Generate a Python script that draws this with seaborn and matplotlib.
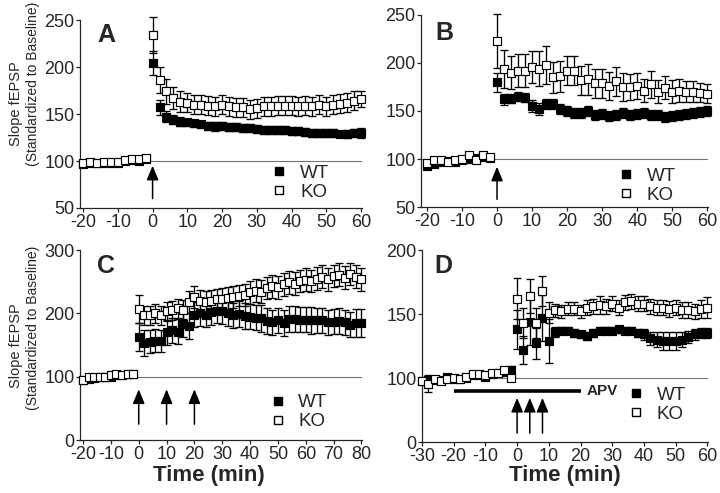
import numpy as np
import pandas as pd
import seaborn as sns
import matplotlib.pyplot as plt
from matplotlib.lines import Line2D

# ---- panel A : one tetanus at t=0 ----
A_TIME = np.arange(-20, 61, 2)
A_WT = [97, 98, 98, 98, 98, 98, 100, 101, 100, 102,
        204, 157, 147, 144, 142, 141, 140, 139, 137, 137,
        137, 136, 136, 135, 135, 134, 133, 133, 133, 133,
        132, 132, 131, 130, 130, 130, 130, 129, 129, 130, 130]
A_WT_ERR = [2, 2, 2, 2, 2, 2, 2, 2, 2, 2,
            13, 8, 6, 5, 5, 4, 4, 4, 4, 5,
            4, 4, 4, 4, 4, 4, 4, 4, 4, 4,
            4, 4, 4, 4, 4, 4, 4, 3, 4, 4, 5]
A_KO = [98, 99, 98, 99, 99, 99, 101, 102, 102, 103,
        234, 186, 174, 167, 163, 162, 160, 160, 159, 158,
        160, 158, 157, 157, 155, 156, 158, 158, 159, 159,
        159, 158, 159, 158, 160, 158, 160, 161, 162, 164, 166]
A_KO_ERR = [2, 2, 2, 2, 2, 2, 2, 2, 2, 2,
            19, 14, 13, 12, 11, 10, 10, 10, 10, 10,
            10, 10, 10, 10, 10, 10, 10, 10, 10, 10,
            10, 10, 10, 10, 10, 10, 10, 10, 10, 10, 9]

# ---- panel B ----
B_TIME = np.arange(-20, 61, 2)
B_WT = [93, 95, 97, 98, 97, 99, 100, 101, 102, 101,
        180, 162, 163, 165, 164, 155, 152, 157, 157, 152,
        150, 148, 148, 150, 146, 147, 145, 146, 148, 146,
        147, 148, 146, 146, 144, 145, 146, 147, 148, 149, 150]
B_WT_ERR = [3, 2, 2, 2, 2, 2, 2, 2, 2, 2,
            10, 6, 5, 5, 5, 6, 6, 5, 5, 5,
            5, 5, 5, 5, 5, 5, 5, 5, 5, 5,
            5, 5, 5, 5, 5, 5, 5, 5, 5, 5, 5]
B_KO = [96, 99, 99, 97, 99, 100, 104, 99, 104, 102,
        223, 194, 190, 192, 192, 196, 194, 198, 185, 186,
        192, 192, 182, 183, 179, 179, 176, 181, 175, 175,
        176, 171, 178, 170, 174, 170, 171, 170, 170, 169, 168]
B_KO_ERR = [2, 2, 2, 2, 2, 2, 2, 2, 2, 2,
            28, 20, 17, 17, 17, 17, 18, 20, 16, 16,
            15, 15, 15, 16, 15, 15, 15, 15, 15, 14,
            14, 12, 14, 12, 12, 12, 12, 11, 11, 10, 10]

# ---- panel C : three tetani ----
C_TIME = np.arange(-20, 81, 2)
C_WT = [94, 97, 98, 99, 99, 100, 103, 102, 104, 104,
        162, 153, 155, 157, 156, 170, 173, 171, 183, 180,
        198, 200, 198, 202, 204, 203, 200, 197, 199, 196,
        195, 193, 192, 188, 186, 189, 185, 191, 191, 190,
        190, 189, 189, 189, 186, 187, 188, 186, 182, 185, 185]
C_WT_ERR = [3, 2, 2, 2, 2, 2, 2, 2, 2, 2,
            22, 20, 18, 18, 17, 20, 20, 20, 20, 20,
            20, 20, 19, 20, 20, 20, 20, 20, 20, 20,
            20, 20, 21, 20, 20, 20, 20, 20, 20, 20,
            20, 21, 20, 20, 20, 20, 21, 20, 20, 22, 22]
C_KO = [95, 99, 100, 100, 100, 102, 104, 103, 105, 105,
        207, 197, 197, 200, 197, 203, 205, 208, 206, 218,
        226, 220, 218, 220, 222, 223, 224, 226, 228, 229,
        233, 236, 234, 240, 243, 241, 246, 249, 247, 251,
        253, 251, 255, 258, 254, 259, 261, 256, 262, 258, 254]
C_KO_ERR = [2, 2, 2, 2, 2, 2, 2, 2, 2, 2,
            22, 15, 15, 15, 15, 15, 15, 15, 15, 17,
            17, 17, 17, 17, 17, 17, 17, 17, 17, 17,
            18, 18, 18, 18, 18, 18, 18, 18, 18, 18,
            18, 18, 18, 18, 18, 18, 18, 18, 18, 18, 18]

# ---- panel D : three tetani under APV ----
D_TIME = np.arange(-30, 61, 2)
D_WT = [96, 97, 97, 97, 101, 99, 98, 100, 102, 102, 101, 103, 104, 105, 106,
        138, 122, 144, 127, 147, 129, 136, 137, 137, 135,
        134, 133, 135, 137, 137, 137, 138, 137, 137, 135,
        134, 131, 130, 129, 129, 129, 130, 132, 134, 135, 135]
D_WT_ERR = [4, 3, 3, 2, 2, 2, 2, 2, 2, 2, 2, 2, 2, 2, 3,
            15, 11, 18, 12, 18, 17, 4, 3, 3, 3,
            3, 3, 3, 3, 3, 3, 3, 3, 3, 3,
            4, 5, 6, 7, 7, 7, 6, 5, 4, 4, 4]
D_KO = [95, 90, 98, 96, 99, 100, 98, 101, 103, 103, 102, 104, 104, 106, 100,
        162, 143, 164, 143, 168, 151, 153, 152, 154, 154,
        152, 155, 156, 157, 156, 158, 155, 159, 160, 158,
        158, 156, 155, 155, 154, 155, 153, 153, 152, 154, 155]
D_KO_ERR = [5, 12, 3, 3, 2, 2, 2, 2, 2, 2, 2, 2, 2, 2, 3,
            16, 12, 13, 12, 12, 8, 5, 5, 5, 5,
            5, 6, 6, 7, 6, 6, 6, 6, 6, 6,
            6, 6, 6, 6, 6, 6, 6, 6, 6, 7, 8]

# stimulation arrows and APV bar
A_ARROWS = [0]
C_ARROWS = [0, 10, 20]
D_ARROWS = [0, 4, 8]
APV_SPAN = [-20, 20]


def d_forward(v):
    v = np.asarray(v, dtype=float)
    return np.where(v <= 100, v, 100 + 2 * (v - 100))


def d_inverse(f):
    f = np.asarray(f, dtype=float)
    return np.where(f <= 100, f, 100 + (f - 100) / 2)


def draw_panel(ax, time, wt, wt_err, ko, ko_err):
	n = len(time)
	df = pd.DataFrame({
		"time": np.concatenate([time, time]),
		"slope": wt + ko,
		"err": wt_err + ko_err,
		"genotype": ["WT"] * n + ["KO"] * n,
	})
	ax.axhline(100, color="0.45", lw=0.8, zorder=0)
	z = 2
	for geno, face in [("WT", "black"), ("KO", "white")]:
		sub = df[df.genotype == geno]
		ax.errorbar(sub.time, sub.slope, yerr=sub.err, fmt="none", ecolor="black",
			elinewidth=0.95, capsize=2.6, capthick=0.95, clip_on=False, zorder=z)
		sns.scatterplot(data=sub, x="time", y="slope", marker="s", s=28, color=face,
			edgecolor="black", linewidth=0.85, ax=ax, zorder=z + 1, clip_on=False, legend=False)
		z += 2
	ax.set_xlabel("")
	ax.set_ylabel("")
	sns.despine(ax=ax)
	for sp in ["left", "bottom"]:
		ax.spines[sp].set_linewidth(0.9)
	ax.tick_params(direction="out", length=3, width=0.9, pad=1, labelsize=13)


def add_legend(ax, x, y):
	handles = [
		Line2D([], [], marker="s", ls="none", markerfacecolor="black", markeredgecolor="black", markersize=5.5),
		Line2D([], [], marker="s", ls="none", markerfacecolor="white", markeredgecolor="black", markersize=5.5),
	]
	ax.legend(handles, ["WT", "KO"], loc="center left", bbox_to_anchor=(x, y), frameon=False,
		handlelength=1.0, handletextpad=0.6, labelspacing=0.1, borderpad=0, borderaxespad=0,
		fontsize=13.5)


def add_arrows(ax, times, bottom, top):
	for t in times:
		ax.annotate("", xy=(t, top), xytext=(t, bottom),
			arrowprops=dict(arrowstyle="-|>,head_length=0.72,head_width=0.3", color="black",
				lw=1.1, shrinkA=0, shrinkB=0, mutation_scale=12))


sns.set_style("ticks")
plt.rcParams["font.family"] = ["Liberation Sans", "DejaVu Sans"]
plt.rcParams["axes.unicode_minus"] = False

fig = plt.figure(figsize=(7.2, 4.93), dpi=100)
ax_a = fig.add_axes([0.1111, 0.5781, 0.3917, 0.3813])
ax_b = fig.add_axes([0.5847, 0.5801, 0.3986, 0.3895])
ax_c = fig.add_axes([0.1111, 0.1075, 0.3917, 0.3854])
ax_d = fig.add_axes([0.5861, 0.1034, 0.3972, 0.3895])

# A
draw_panel(ax_a, A_TIME, A_WT, A_WT_ERR, A_KO, A_KO_ERR)
ax_a.set_xlim(-20.9, 60.3)
ax_a.set_ylim(50, 250)
ax_a.set_xticks(range(-20, 61, 10))
ax_a.set_yticks([50, 100, 150, 200, 250])
add_arrows(ax_a, A_ARROWS, 60, 95)
add_legend(ax_a, 0.674, 0.133)

# B
draw_panel(ax_b, B_TIME, B_WT, B_WT_ERR, B_KO, B_KO_ERR)
ax_b.set_xlim(-21.7, 60.2)
ax_b.set_ylim(50, 250)
ax_b.set_xticks(range(-20, 61, 10))
ax_b.set_yticks([50, 100, 150, 200, 250])
add_arrows(ax_b, A_ARROWS, 58, 92)
add_legend(ax_b, 0.681, 0.11)

# C
draw_panel(ax_c, C_TIME, C_WT, C_WT_ERR, C_KO, C_KO_ERR)
ax_c.set_xlim(-21.1, 80.2)
ax_c.set_ylim(0, 300)
ax_c.set_xticks(range(-20, 81, 10))
ax_c.set_yticks([0, 100, 200, 300])
add_arrows(ax_c, C_ARROWS, 25, 80)
add_legend(ax_c, 0.668, 0.147)

# D  (y axis: 0-100 compressed, 100-200 expanded)
ax_d.set_yscale("function", functions=(d_forward, d_inverse))
draw_panel(ax_d, D_TIME, D_WT, D_WT_ERR, D_KO, D_KO_ERR)
ax_d.set_xlim(-30, 60.2)
ax_d.set_ylim(0, 200)
ax_d.set_xticks(range(-30, 61, 10))
ax_d.set_yticks([0, 100, 150, 200])
ax_d.yaxis.set_major_formatter(plt.FormatStrFormatter("%d"))
ax_d.yaxis.set_minor_locator(plt.NullLocator())
add_arrows(ax_d, D_ARROWS, 14, 69)
ax_d.plot(APV_SPAN, [80, 80], color="black", lw=2.6, solid_capstyle="butt")
ax_d.text(21.9, 80, "APV", fontsize=11, fontweight="bold", va="center", ha="left")
add_legend(ax_d, 0.715, 0.193)

# panel letters
for (x, y), letter in zip([(0.1347, 0.9148), (0.604, 0.9189), (0.1347, 0.4462), (0.6028, 0.4462)], "ABCD"):
	fig.text(x, y, letter, fontsize=18, fontweight="bold", va="baseline", ha="left")

# y labels (two lines, rotated)
for y_short, y_long in [(1 - 104 / 493, 1 - 84 / 493), (1 - 346 / 493, 1 - 328 / 493)]:
	fig.text(16 / 720, y_short, "Slope fEPSP", rotation=90, fontsize=10.5,
		ha="center", va="center")
	fig.text(33 / 720, y_long, "(Standardized to Baseline)", rotation=90, fontsize=10,
		ha="center", va="center")

# x labels
fig.text(209 / 720, 1 - 475 / 493, "Time (min)", fontsize=16, fontweight="bold", ha="center", va="center")
fig.text(565 / 720, 1 - 475 / 493, "Time (min)", fontsize=16, fontweight="bold", ha="center", va="center")

fig.savefig("out.png", dpi=100)
